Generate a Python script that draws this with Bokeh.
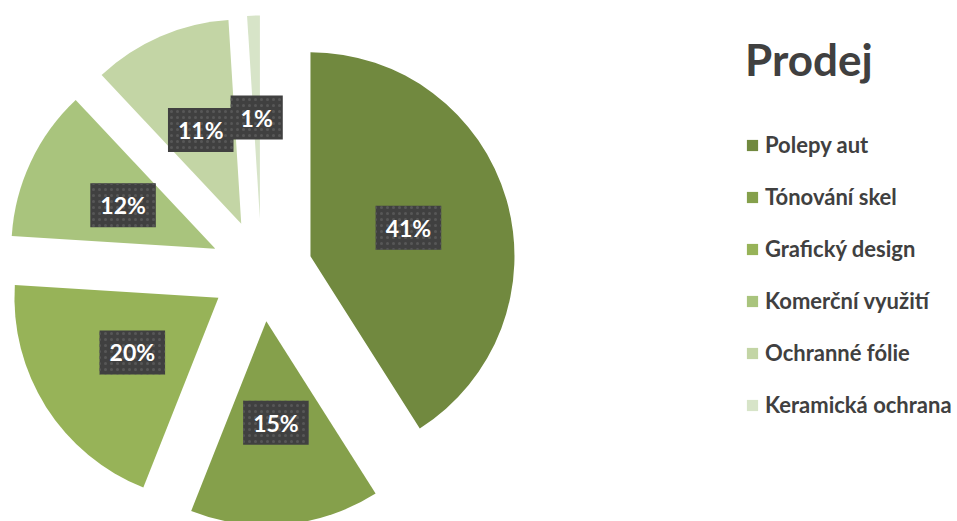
import numpy as np
from bokeh.plotting import figure
from bokeh.models import ColumnDataSource, Range1d, Legend, LegendItem
from bokeh.core.properties import value
from bokeh.embed import file_html
from bokeh.resources import INLINE

# ---- data ----
categories = ["Polepy aut", "Tónování skel", "Grafický design",
              "Komerční využití", "Ochranné fólie", "Keramická ochrana"]
shares = [41, 15, 20, 12, 11, 1]
colors = ["#71893F", "#85A04B", "#97B358", "#A9C47D", "#C3D5A5", "#D7E4C8"]
chart_title = "Prodej"

# ---- layout ----
W, H = 957, 521
cx, cy = 261, 251      # pie centre (data units == pixels)
R = 204
explode = 51
label_r = 102

vals = np.array(shares, dtype=float)
frac = vals / vals.sum()
cum = np.concatenate([[0.0], np.cumsum(frac)])
th1 = cum[:-1] * 2 * np.pi          # clockwise from 12 o'clock
th2 = cum[1:] * 2 * np.pi
mid = (th1 + th2) / 2
x = cx + explode * np.sin(mid)
y = cy + explode * np.cos(mid)
start = np.pi / 2 - th2
end = np.pi / 2 - th1
lx = x + label_r * np.sin(mid)
ly = y + label_r * np.cos(mid)
labels = [f"{v:.0f}%" for v in frac * 100]

src = ColumnDataSource(dict(x=x, y=y, start=start, end=end, color=colors,
                            cat=categories, lx=lx, ly=ly, label=labels))

p = figure(width=W, height=H, x_range=Range1d(0, W), y_range=Range1d(0, H),
           x_axis_type=None, y_axis_type=None, output_backend="svg",
           toolbar_location=None, min_border=0)
p.grid.visible = False
p.outline_line_color = None
p.background_fill_color = "white"
p.border_fill_color = "white"

wr = p.wedge(x="x", y="y", radius=R, start_angle="start", end_angle="end",
             fill_color="color", line_color=None, source=src)

p.text(x="lx", y="ly", text="label", source=src,
       text_align="center", text_baseline="middle",
       text_font=value("Lato"), text_font_style="bold", text_font_size="23px",
       text_color="white",
       background_fill_color="#404040",
       background_hatch_pattern="dot", background_hatch_color="#575757",
       background_hatch_scale=6, background_hatch_weight=1,
       padding=dict(left=10, right=10, top=8, bottom=8))

legend = Legend(
    items=[LegendItem(label=c, renderers=[wr], index=i) for i, c in enumerate(categories)],
    title=chart_title,
    location=(745, 103),
    orientation="vertical",
    title_text_font="Lato", title_text_font_style="bold",
    title_text_font_size="44px", title_text_color="#404040",
    title_standoff=46,
    label_text_font="Lato", label_text_font_style="bold",
    label_text_font_size="22px", label_text_color="#404040",
    glyph_width=14, glyph_height=14, label_standoff=6,
    label_height=20, spacing=25,
    padding=0, margin=0, border_line_color=None, background_fill_alpha=0,
)
p.add_layout(legend)

open("out.html", "w").write(file_html(p, INLINE))
